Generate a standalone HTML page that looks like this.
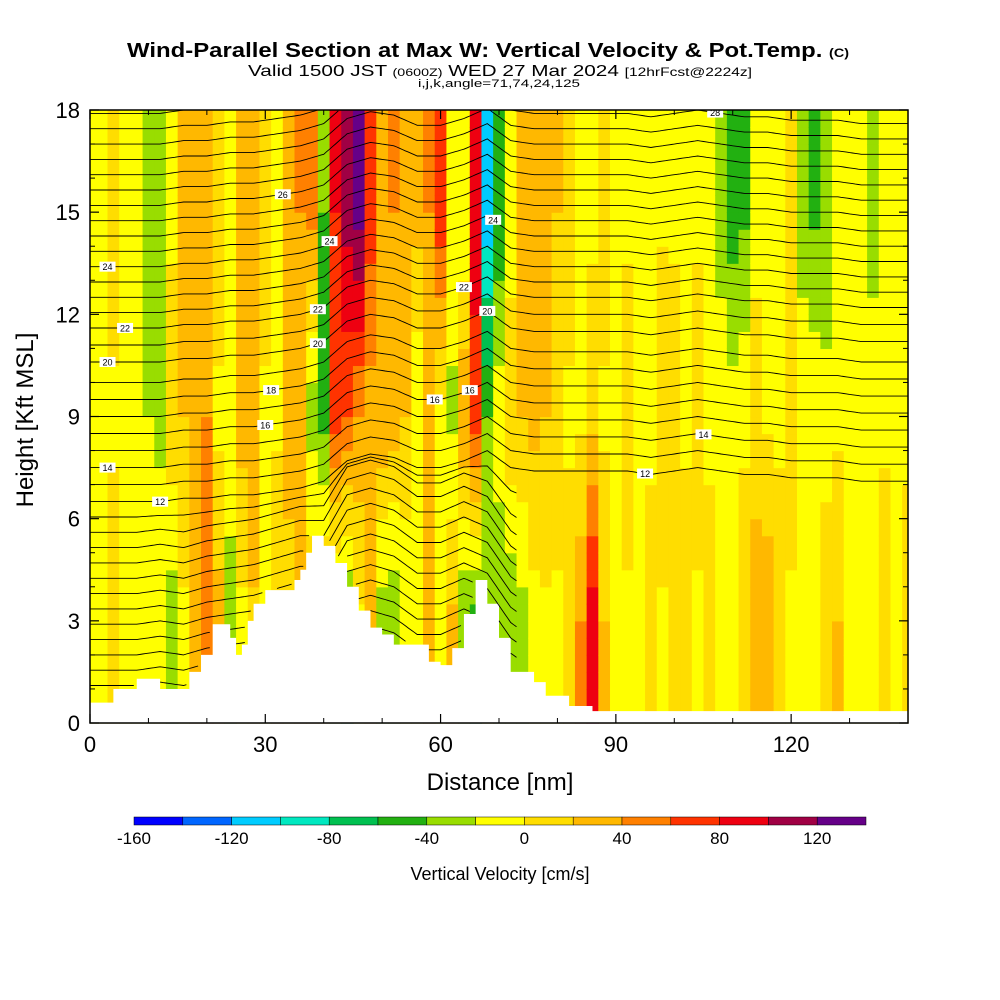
<!DOCTYPE html>
<html><head><meta charset="utf-8"><style>
html,body{margin:0;padding:0;background:#fff;width:1000px;height:1000px;overflow:hidden}
svg text{font-family:"Liberation Sans",sans-serif}
</style></head><body>
<svg id="chart" width="1000" height="1000" viewBox="0 0 1000 1000" xmlns="http://www.w3.org/2000/svg">
<text x="127" y="57" font-size="20" font-weight="bold" textLength="722" lengthAdjust="spacingAndGlyphs">Wind-Parallel Section at Max W: Vertical Velocity &amp; Pot.Temp. <tspan font-size="12">(C)</tspan></text>
<text x="248" y="76" font-size="16" textLength="504" lengthAdjust="spacingAndGlyphs">Valid 1500 JST <tspan font-size="11">(0600Z)</tspan> WED 27 Mar 2024 <tspan font-size="12">[12hrFcst@2224z]</tspan></text>
<text x="418" y="87" font-size="11" textLength="162" lengthAdjust="spacingAndGlyphs">i,j,k,angle=71,74,24,125</text>
<g id="fills"></g>
<g id="terrain"></g>
<g id="isen"></g>
<g id="axes"></g>
<g id="cbar"></g>
<text x="500" y="790" font-size="24" text-anchor="middle">Distance [nm]</text>
<text x="0" y="0" font-size="24" text-anchor="middle" transform="translate(33,420) rotate(-90)">Height [Kft MSL]</text>
<text x="500" y="880" font-size="18" text-anchor="middle">Vertical Velocity [cm/s]</text>
</svg>
<script>
// ---- data ----
const colDist = [0,2,4,6,8,10,12,14,16,18,20,22,24,26,28,30,32,34,36,38,40,42,44,46,48,50,52,54,56,58,60,62,64,66,68,70,72,74,76,78,80,82,84,86,88,90,92,94,96,98,100,102,104,106,108,110,112,114,116,118,120,122,124,126,128,130,132,134,136,138,140];
const wUpper = [-5,-5,15,-5,-5,-25,-30,-5,25,20,35,15,-5,30,35,15,-5,20,40,45,-40,80,110,130,70,30,40,20,30,40,70,-5,-20,90,-110,-60,-10,25,35,30,20,15,-5,-5,15,-5,-5,-5,-5,-5,-5,-5,-5,-10,-30,-50,-45,-10,-5,-5,15,-30,-45,-40,-20,-20,-5,-30,-5,-5,-5];
const wMid = [-5,-5,-5,-5,-5,-20,-25,15,20,30,40,-5,-5,30,40,-5,-5,25,35,-30,-50,70,60,40,30,35,30,20,-20,30,-5,-25,40,70,-40,-5,15,20,25,20,15,-5,-5,15,-5,-5,15,-5,-5,20,15,-5,15,-5,-5,-10,-5,15,-5,-5,15,-5,-5,-10,-5,-5,-5,-5,-5,-5,-5];
const wLow = [-5,-5,15,-5,-5,-5,-5,-30,-5,20,40,30,-30,-5,15,-5,20,15,20,25,30,-40,-50,-5,20,-30,-40,-20,-5,20,-5,25,-40,-50,-20,-40,-35,-30,-10,-5,-5,15,40,90,20,-5,-5,-5,10,-5,15,15,-5,10,-5,-5,15,25,35,15,-5,-5,-5,15,20,-5,-5,-5,15,-5,10];
const terrDist = [0,4,8,12,17,19,21,24,25,26,27,28,30,35,36,37,38,40,42,44,46,48,50,52,58,60,62,64,66,68,70,72,76,78,82,86,140];
const terrH = [0.6,1.0,1.3,1.0,1.5,2.0,2.9,2.5,2.0,2.3,3.0,3.5,3.9,4.2,4.5,5.0,5.5,5.2,4.7,4.0,3.3,2.8,2.6,2.3,1.8,1.7,2.2,3.2,4.2,3.5,2.5,1.5,1.2,0.8,0.5,0.35,0.35];
const thetaVals = [5.5,6,6.5,7,7.5,8,8.5,9,9.5,10,10.5,11,11.5,12,13,14,15,16,17,18,19,20,21,22,22.5,23,23.5,24,24.5,25,25.5,26,26.5,27,27.5,28,28.5,29];
const thetaBaseH = [0.65,1.1,1.55,2.0,2.45,2.9,3.35,3.8,4.25,4.7,5.15,5.6,6.05,6.5,7.0,7.5,8.0,8.5,9.0,9.5,10.0,10.6,11.1,11.6,12.05,12.5,12.95,13.4,13.85,14.3,14.75,15.2,15.65,16.1,16.55,17.0,17.45,17.9];
const dispDist = [0,4,8,12,16,20,24,28,32,36,40,44,48,52,56,60,64,68,72,76,80,84,88,92,96,100,104,108,112,116,120,124,128,132,136,140];
const dispHigh = [0,0,0,0,0.1,0.1,0.2,0.2,0.3,0.4,0.6,1.2,1.4,1.3,1.0,1.0,1.2,1.5,1.0,0.9,0.9,0.9,0.9,0.9,0.8,0.9,1.0,0.9,0.8,0.8,0.7,0.7,0.7,0.6,0.6,0.6];
const dispLow = [0,0,0,0.1,0,0.2,0.3,0.4,0.6,0.8,0.8,2.0,2.2,2.0,1.5,1.5,1.8,1.5,0.5,0,0,0,0,0,0,0,0,0,0,0,0,0,0,0,0,0];
const lowCutDist = 73;
const labelTheta = [24,22,20,14,12,18,16,26,28,24,22,20,16,24,22,20,16,14,12,28];
const labelDist = [3,6,3,3,12,31,30,33,61,41,39,39,59,69,64,68,65,105,95,107];
const cbTicks = [-160,-120,-80,-40,0,40,80,120];
const cbBounds = [-160,-140,-120,-100,-80,-60,-40,-20,0,20,40,60,80,100,120,140];
const cbColors = ["#0000ff","#0066ff","#00ccff","#00e8c0","#00c050","#22b011","#99dd00","#ffff00","#ffdd00","#ffb800","#ff8000","#ff3300","#ee0011","#a00044","#660088"];
const xTicks = [0,30,60,90,120];
const yTicks = [0,3,6,9,12,15,18];
// ---- scales ----
const X0=90,X1=908,Y0=723,Y1=110;
const X = d => X0 + d*(X1-X0)/140;
const Y = h => Y0 - h*(Y0-Y1)/18;
const NS="http://www.w3.org/2000/svg";
function mk(tag, attrs, parent){const e=document.createElementNS(NS,tag);for(const k in attrs)e.setAttribute(k,attrs[k]);parent.appendChild(e);return e;}
function lerpArr(xs, ys, x){ if(x<=xs[0])return ys[0]; for(let i=1;i<xs.length;i++){ if(x<=xs[i]){const t=(x-xs[i-1])/(xs[i]-xs[i-1]);return ys[i-1]+t*(ys[i]-ys[i-1]);}} return ys[ys.length-1]; }
function terrainAt(d){ for(let i=terrDist.length-1;i>=0;i--){ if(d>=terrDist[i]) return terrH[i]; } return terrH[0]; }
function colorOf(v){ for(let i=0;i<cbColors.length;i++){ if(v<cbBounds[i+1]) return cbColors[i]; } return cbColors[cbColors.length-1]; }
// ---- fills ----
const fills=document.getElementById('fills');
const bandH=[3,9,15];
for(let c=0;c<colDist.length;c++){
  const d0=Math.max(0,colDist[c]-1), d1=Math.min(140,colDist[c]+1);
  for(let h=0;h<18;h+=0.5){
    const hm=h+0.25;
    const v=lerpArr(bandH,[wLow[c],wMid[c],wUpper[c]],hm);
    const r=mk('rect',{x:X(d0),y:Y(h+0.5),width:X(d1)-X(d0)+0.6,height:Y(h)-Y(h+0.5)+0.6,fill:colorOf(v)},fills);
    
    
  }
}
// ---- terrain ----
const terr=document.getElementById('terrain');
let tp=`M${X(0)},${Y0} `;
for(let i=0;i<terrDist.length;i++){
  const dn = i<terrDist.length-1?terrDist[i+1]:140;
  tp+=`L${X(terrDist[i])},${Y(terrH[i])} L${X(dn)},${Y(terrH[i])} `;
}
tp+=`L${X(140)},${Y0} Z`;
const tpath=mk('path',{d:tp,fill:'#fff',stroke:'none'},terr);


// ---- isentropes ----
const isen=document.getElementById('isen');
function lineH(L,d){
  const b=thetaBaseH[L];
  const w=Math.max(0,Math.min(1,(b-5.5)/1));
  return b + (1-w)*lerpArr(dispDist,dispLow,d) + w*lerpArr(dispDist,dispHigh,d);
}
for(let L=0;L<thetaVals.length;L++){
  let segs=[],cur=[];
  const isLow = thetaBaseH[L] < 6.3;
  for(let d=0;d<=140;d+=0.5){
    const h=lineH(L,d);
    if(h>terrainAt(d)+0.05 && h<=18 && !(isLow && d>lowCutDist)){cur.push(X(d).toFixed(1)+','+Y(h).toFixed(1));}
    else{ if(cur.length>1)segs.push(cur); cur=[]; }
  }
  if(cur.length>1)segs.push(cur);
  segs.forEach(s=>{
    const p=mk('polyline',{points:s.join(' '),fill:'none',stroke:'#000','stroke-width':0.9},isen);
    
    
  });
}
for(let i=0;i<labelTheta.length;i++){
  const L=thetaVals.indexOf(labelTheta[i]); if(L<0)continue;
  const d=labelDist[i], h=lineH(L,d);
  if(h>18||h<terrainAt(d))continue;
  const g=mk('g',{},isen);
  
  
  mk('rect',{x:X(d)-8,y:Y(h)-5,width:16,height:10,fill:'#fff'},g);
  const t=mk('text',{x:X(d),y:Y(h)+3.5,'font-size':9,'text-anchor':'middle'},g);
  t.textContent=labelTheta[i];
}
// ---- axes ----
const ax=document.getElementById('axes');
const fr=mk('rect',{x:X0,y:Y1,width:X1-X0,height:Y0-Y1,fill:'none',stroke:'#000','stroke-width':1.5},ax);


xTicks.forEach(v=>{
  mk('line',{x1:X(v),x2:X(v),y1:Y0,y2:Y0-9,stroke:'#000','stroke-width':1.2},ax);
  mk('line',{x1:X(v),x2:X(v),y1:Y1,y2:Y1+9,stroke:'#000','stroke-width':1.2},ax);
  const t=mk('text',{x:X(v),y:752,'font-size':22,'text-anchor':'middle'},ax);
  
  
  t.textContent=v;
});
for(let v=10;v<140;v+=10){ if(v%30===0)continue;
  mk('line',{x1:X(v),x2:X(v),y1:Y0,y2:Y0-5,stroke:'#000','stroke-width':1},ax);
  mk('line',{x1:X(v),x2:X(v),y1:Y1,y2:Y1+5,stroke:'#000','stroke-width':1},ax);
}
yTicks.forEach(v=>{
  mk('line',{x1:X0,x2:X0+9,y1:Y(v),y2:Y(v),stroke:'#000','stroke-width':1.2},ax);
  mk('line',{x1:X1,x2:X1-9,y1:Y(v),y2:Y(v),stroke:'#000','stroke-width':1.2},ax);
  const t=mk('text',{x:80,y:Y(v)+8,'font-size':22,'text-anchor':'end'},ax);
  
  
  t.textContent=v;
});
for(let v=1;v<18;v++){ if(v%3===0)continue;
  mk('line',{x1:X0,x2:X0+5,y1:Y(v),y2:Y(v),stroke:'#000','stroke-width':1},ax);
  mk('line',{x1:X1,x2:X1-5,y1:Y(v),y2:Y(v),stroke:'#000','stroke-width':1},ax);
}
// ---- colorbar ----
const cb=document.getElementById('cbar');
const CB0=134,CB1=866;
const CX=v=>CB0+(v-cbBounds[0])*(CB1-CB0)/(cbBounds[cbBounds.length-1]-cbBounds[0]);
for(let i=0;i<cbColors.length;i++){
  const r=mk('rect',{x:CX(cbBounds[i]),y:817,width:CX(cbBounds[i+1])-CX(cbBounds[i]),height:8,fill:cbColors[i],stroke:'#000','stroke-width':0.5},cb);
  
  
}
cbTicks.forEach(v=>{
  const t=mk('text',{x:CX(v),y:844,'font-size':17,'text-anchor':'middle'},cb);
  
  
  t.textContent=v;
});
</script>
</body></html>
